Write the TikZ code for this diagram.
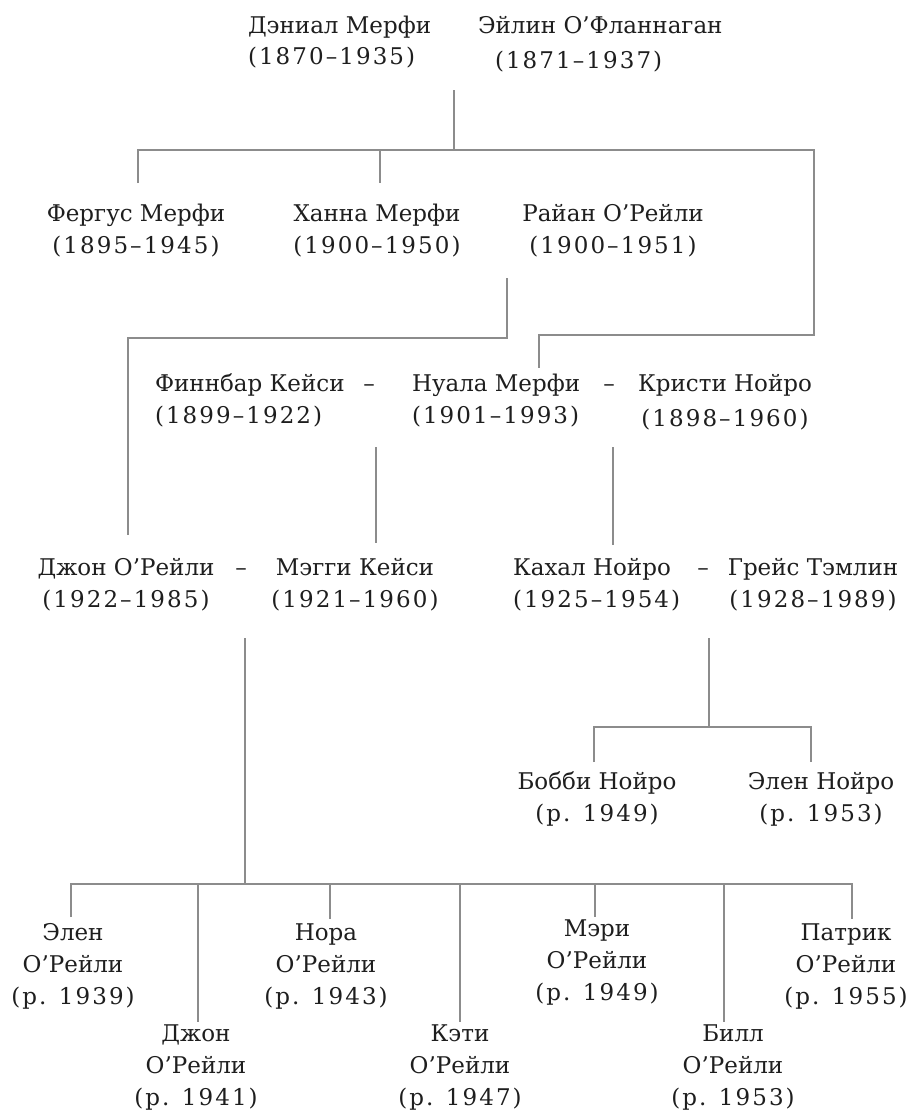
\documentclass[tikz,border=0pt]{standalone}
\usepackage{fontspec}
\setmainfont{DejaVu Serif}
\newfontfamily\yrs[LetterSpace=9]{DejaVu Serif}
\definecolor{txt}{HTML}{1E1E1E}
\definecolor{ln}{HTML}{8C8C8C}
\begin{document}
\begin{tikzpicture}[x=1pt,y=-1pt,
  every node/.style={font=\fontsize{23}{32}\selectfont, text=txt, inner sep=0pt, outer sep=0pt},
  pc/.style={align=center, anchor=base},
  pl/.style={align=left, anchor=base west},
  conn/.style={draw=ln, line width=1.3pt}]
\useasboundingbox[fill=white] (0,0) rectangle (909,1116);
% generation 1 (anchor = baseline of last line)
\node[pl] (dan) at (248,65) {Дэниал Мерфи\\{\yrs(1870–1935)}};
\node[pl] (eil) at (478,68) {Эйлин О’Фланнаган\\[3pt]\hspace*{17pt}{\yrs(1871–1937)}};
% generation 2
\node[pc] (fer) at (136,253) {Фергус Мерфи\\{\yrs(1895–1945)}};
\node[pc] (han) at (377,253) {Ханна Мерфи\\{\yrs(1900–1950)}};
\node[pc] (rya) at (613,253) {Райан О’Рейли\\{\yrs(1900–1951)}};
\node[pl] (fin) at (155,423) {Финнбар Кейси\\{\yrs(1899–1922)}};
\node[pc] (d1) at (369,391) {–};
\node[pl] (nua) at (412,423) {Нуала Мерфи\\{\yrs(1901–1993)}};
\node[pc] (d2) at (609,391) {–};
\node[pc] (kri) at (725,426) {Кристи Нойро\\[3pt]{\yrs(1898–1960)}};
% generation 3
\node[pc] (joh) at (126,607) {Джон О’Рейли\\{\yrs(1922–1985)}};
\node[pc] (d3) at (241,575) {–};
\node[pc] (mag) at (355,607) {Мэгги Кейси\\{\yrs(1921–1960)}};
\node[pl] (kah) at (513,607) {Кахал Нойро\\{\yrs(1925–1954)}};
\node[pc] (d4) at (703,575) {–};
\node[pc] (gra) at (813,607) {Грейс Тэмлин\\{\yrs(1928–1989)}};
% generation 4
\node[pc] (bob) at (597,821) {Бобби Нойро\\{\yrs(р. 1949)}};
\node[pc] (eln) at (821,821) {Элен Нойро\\{\yrs(р. 1953)}};
\node[pc] (ele) at (73,1004) {Элен\\О’Рейли\\{\yrs(р. 1939)}};
\node[pc] (dzh) at (196,1105) {Джон\\О’Рейли\\{\yrs(р. 1941)}};
\node[pc] (nor) at (326,1004) {Нора\\О’Рейли\\{\yrs(р. 1943)}};
\node[pc] (kat) at (460,1105) {Кэти\\О’Рейли\\{\yrs(р. 1947)}};
\node[pc] (mar) at (597,1000) {Мэри\\О’Рейли\\{\yrs(р. 1949)}};
\node[pc] (bil) at (733,1105) {Билл\\О’Рейли\\{\yrs(р. 1953)}};
\node[pc] (pat) at (846,1004) {Патрик\\О’Рейли\\{\yrs(р. 1955)}};
% junction coordinates
\coordinate (a0) at (454,90);
\coordinate (a1) at (454,150);
\coordinate (aL) at (138,150);
\coordinate (aR) at (814,150);
\coordinate (aF) at (138,183);
\coordinate (aH) at (380,150);
\coordinate (aH2) at (380,183);
\coordinate (aR2) at (814,335);
\coordinate (aN1) at (539,335);
\coordinate (aN2) at (539,368);
\coordinate (r0) at (507,278);
\coordinate (r1) at (507,338);
\coordinate (r2) at (128,338);
\coordinate (r3) at (128,535);
\coordinate (m0) at (376,447);
\coordinate (m1) at (376,543);
\coordinate (k0) at (613,447);
\coordinate (k1) at (613,545);
\coordinate (c0) at (245,638);
\coordinate (c1) at (245,884);
\coordinate (g0) at (709,638);
\coordinate (g1) at (709,727);
\coordinate (gL) at (594,727);
\coordinate (gR) at (811,727);
\coordinate (gL2) at (594,762);
\coordinate (gR2) at (811,762);
\coordinate (bL) at (71,884);
\coordinate (bR) at (852,884);
% connectors
\draw[conn] (a0) -- (a1);
\draw[conn] (aF) -- (aL) -- (aR) -- (aR2) -- (aN1) -- (aN2);
\draw[conn] (aH) -- (aH2);
\draw[conn] (r0) -- (r1) -- (r2) -- (r3);
\draw[conn] (m0) -- (m1);
\draw[conn] (k0) -- (k1);
\draw[conn] (g0) -- (g1);
\draw[conn] (gL2) -- (gL) -- (gR) -- (gR2);
\draw[conn] (c0) -- (c1);
\draw[conn] (bL |- 0,917) -- (bL) -- (bR) -- (bR |- 0,919);
\draw[conn] (198,884) -- (198,1022);
\draw[conn] (330,884) -- (330,919);
\draw[conn] (460,884) -- (460,1022);
\draw[conn] (595,884) -- (595,917);
\draw[conn] (724,884) -- (724,1022);
\end{tikzpicture}
\end{document}
